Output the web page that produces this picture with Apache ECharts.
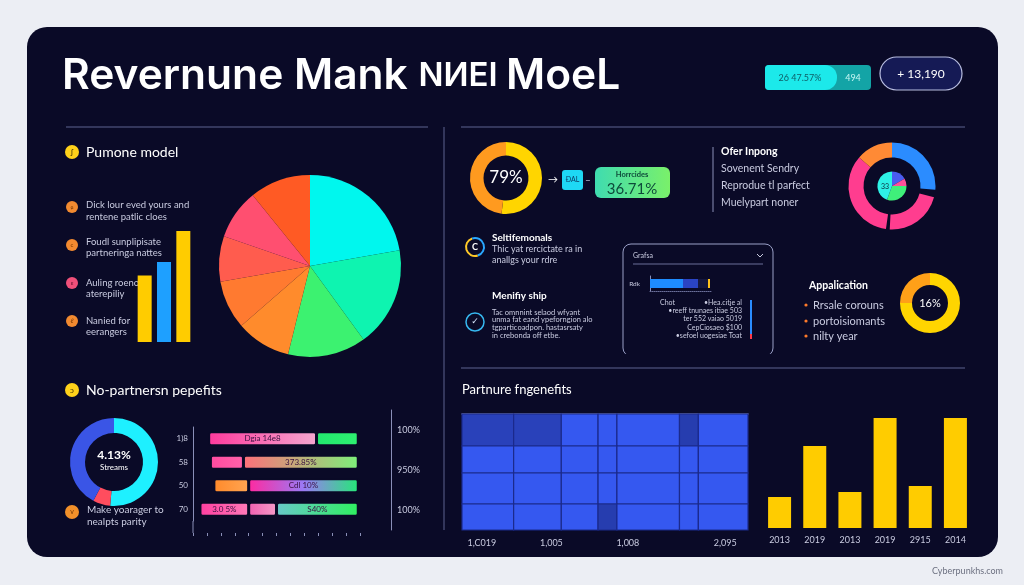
<!DOCTYPE html>
<html>
<head>
<meta charset="utf-8">
<title>Revenue model</title>
<script src="https://cdn.jsdelivr.net/npm/echarts@6/dist/echarts.min.js"></script>
<style>
html, body { margin: 0; padding: 0; background: #eceef4; }
#main { width: 1024px; height: 585px; }
</style>
</head>
<body>
<div id="main"></div>
<script>
// ---- data ----
var modelBars = [60, 72, 100]
var pieSlices = [80, 64, 50, 35, 31, 29, 32, 39]
var ringMain = [52, 48] // 79% donut
var ringSplit = [95, 10, 78, 5, 123, 49] // outer ring, with two small gaps
var innerPie = [60, 30, 110, 160]
var ringApp = [75, 25] // 16% donut
var ringStreams = [185, 23, 152] // 4.13% donut

var rowLabels = ['1)8', '58', '50', '70']
var rowOffset = [9, 10, 12, 4]
var segA = [62, 19, 20, 28]
var segB = [24, 66, 63, 16]
var segC = [0, 0, 0, 47]
var segALabels = ['Dgia 14e8', '', '', '3.0 5%']
var segBLabels = ['', '373.85%', 'Cdl 10%', '']
var segCLabels = ['', '', '', 'S40%']
var pctTicks = ['100%', '950%', '100%']

var colSpans = [52, 48, 37, 19, 63, 19, 50]
var rowSpans = [32, 27, 31, 26]
var heatVals = [
  [4, 4, 9, 9, 9, 3, 9],
  [9, 9, 9, 9, 9, 9, 9],
  [9, 9, 9, 9, 9, 9, 9],
  [9, 9, 9, 3, 9, 9, 9]
]
var heatTickAt = [20, 90, 167, 265]
var heatTicks = ['1,C019', '1,005', '1,008', '2,095']

var years = ['2013', '2019', '2013', '2019', '2915', '2014']
var yearVals = [31, 82, 36, 110, 42, 110]

var miniBar = [33, 15, 10, 2]

// ---- styles ----
var PANEL = '#0a0a27'
var BODY = 'Lato, "Noto Sans", sans-serif'
var LIGHT = '#c9cbe0'
var LINE = '#5d6290'
var CLEAR = 'rgba(0,0,0,0)'

var chart = echarts.init(document.getElementById('main'))

function grad(cols) {
  var stops = cols.map(function(c, i) {
    return { offset: cols.length === 1 ? 0 : i / (cols.length - 1), color: c }
  })
  return new echarts.graphic.LinearGradient(0, 0, 1, 0, stops)
}

// pie data with a colour per slice
function slices(vals, colors) {
  return vals.map(function(v, i) {
    return { value: v, itemStyle: { color: colors[i] } }
  })
}

function pie(center, radius, vals, colors) {
  return {
    type: 'pie', center: center, radius: radius, silent: true,
    label: { show: false }, labelLine: { show: false },
    data: slices(vals, colors)
  }
}

function txt(x, y, s, size, color, opt) {
  opt = opt || {}
  return {
    type: 'text',
    z: opt.z || 20,
    style: {
      x: x, y: y, text: s, fill: color,
      font: (opt.weight || 'normal') + ' ' + size + 'px ' + (opt.family || BODY),
      align: opt.align || 'left', verticalAlign: 'middle',
      textAlign: opt.align || 'left', textVerticalAlign: 'middle'
    }
  }
}
function line(x1, y1, x2, y2, color, w) {
  return { type: 'line', z: 5, shape: { x1: x1, y1: y1, x2: x2, y2: y2 }, style: { stroke: color || LINE, lineWidth: w || 1 } }
}
function dot(x, y, r, color, z) {
  return { type: 'circle', z: z || 10, shape: { cx: x, cy: y, r: r }, style: { fill: color } }
}

// heat cells built from spans
var heatData = []
var y0 = 0
rowSpans.forEach(function(h, r) {
  var x0 = 0
  colSpans.forEach(function(w, c) {
    heatData.push([x0, x0 + w, y0, y0 + h, heatVals[r][c]])
    x0 += w
  })
  y0 += h
})

var seg1Colors = [['#ff3a9c', '#f4a6cf'], ['#ff4aa0', '#ff62aa'], ['#ff8a2a', '#ffa552'], ['#ff3fa0', '#ff7ab8']]
var seg2Colors = [['#22e86e', '#2ef070'], ['#ff6f7a', '#7df07a'], ['#ff2aa0', '#9a7af5', '#25e878'], ['#f060b0', '#f59ac8']]
var seg3Colors = [['#68c8c8'], ['#68c8c8'], ['#68c8c8'], ['#68c8c8', '#2ff060']]

function segSeries(vals, labels, colors) {
  return {
    type: 'bar', xAxisIndex: 1, yAxisIndex: 1, stack: 'row', barWidth: 14, silent: true,
    data: vals.map(function(v, i) {
      return {
        value: v,
        itemStyle: { color: grad(colors[i]), borderColor: PANEL, borderWidth: 1.5, borderRadius: 2 },
        label: { show: !!labels[i], formatter: labels[i], position: 'inside', color: '#3a1040', fontSize: 8, fontFamily: BODY }
      }
    })
  }
}

function miniSeries(v, color) {
  return {
    type: 'bar', xAxisIndex: 5, yAxisIndex: 5, stack: 'mini', barWidth: 9, silent: true,
    itemStyle: { color: color }, data: [v]
  }
}

var hiddenCat = { type: 'category', show: false }
var hiddenVal = { type: 'value', show: false }

var option = {
  backgroundColor: '#eceef4',
  animation: false,
  grid: [
    { left: 135, top: 231, width: 58, height: 111 },
    { left: 193, top: 427, width: 167, height: 94 },
    { left: 391, top: 410, width: 1, height: 120 },
    { left: 462, top: 414, width: 286, height: 116 },
    { left: 762, top: 418, width: 211, height: 110 },
    { left: 650, top: 276, width: 62, height: 15 }
  ],
  xAxis: [
    Object.assign({ gridIndex: 0, data: ['a', 'b', 'c'] }, hiddenCat),
    {
      gridIndex: 1, type: 'value', min: 0, max: 96, interval: 8, offset: 12,
      axisLine: { lineStyle: { color: '#8a8fb8' } },
      axisTick: { show: true, length: 3, lineStyle: { color: '#8a8fb8' } },
      axisLabel: { show: false }, splitLine: { show: false }
    },
    Object.assign({ gridIndex: 2 }, hiddenVal),
    {
      gridIndex: 3, type: 'value', min: 0, max: 288, offset: 3,
      axisLine: { lineStyle: { color: '#7c82b0', width: 1.5 } },
      axisTick: { show: false }, splitLine: { show: false },
      axisLabel: {
        customValues: heatTickAt, color: LIGHT, fontSize: 9, fontFamily: BODY, margin: 6,
        formatter: function(v) { return heatTicks[heatTickAt.indexOf(v)] }
      }
    },
    {
      gridIndex: 4, type: 'category', data: years,
      axisLine: { show: false }, axisTick: { show: false },
      axisLabel: { color: LIGHT, fontSize: 9, fontFamily: BODY, margin: 8, interval: 0 }
    },
    {
      gridIndex: 5, type: 'value', min: 0, max: 62,
      axisLine: { show: true, lineStyle: { color: '#6a6f9a', type: 'dotted' } },
      axisTick: { show: false }, axisLabel: { show: false }, splitLine: { show: false }
    }
  ],
  yAxis: [
    Object.assign({ gridIndex: 0, max: 100 }, hiddenVal),
    {
      gridIndex: 1, type: 'category', data: rowLabels, inverse: true,
      axisLine: { lineStyle: { color: '#8a8fb8' } },
      axisTick: { length: 3, alignWithLabel: true, lineStyle: { color: '#8a8fb8' } },
      axisLabel: { color: LIGHT, fontSize: 8, fontFamily: BODY, margin: 5 }
    },
    {
      gridIndex: 2, type: 'category', data: pctTicks, position: 'right', inverse: true,
      axisLine: { lineStyle: { color: '#8a8fb8' } },
      axisTick: { length: 4, alignWithLabel: true, lineStyle: { color: '#8a8fb8' } },
      axisLabel: { color: LIGHT, fontSize: 9, fontFamily: BODY, margin: 5 }
    },
    Object.assign({ gridIndex: 3, min: 0, max: 116, inverse: true }, hiddenVal),
    Object.assign({ gridIndex: 4, min: 0, max: 110 }, hiddenVal),
    {
      gridIndex: 5, type: 'category', data: ['Rdk'],
      axisLine: { show: true, lineStyle: { color: '#8a8fb8' } },
      axisTick: { show: false },
      axisLabel: { color: LIGHT, fontSize: 6.5, fontFamily: BODY, margin: 10 }
    }
  ],
  visualMap: {
    show: false, seriesIndex: 13, dimension: 4, min: 0, max: 9,
    inRange: { color: ['#1f2f8f', '#3558f0'] }
  },
  series: [
    // 0 model bars
    {
      type: 'bar', xAxisIndex: 0, yAxisIndex: 0, barWidth: 14, silent: true,
      data: modelBars.map(function(v, i) {
        return { value: v, itemStyle: { color: ['#ffcc00', '#1ea0ff', '#ffcc00'][i] } }
      })
    },
    // 1 big pie
    pie([310, 266], 91, pieSlices,
      ['#00f7ee', '#0ef4b0', '#3cf270', '#ff8b2c', '#ff7a30', '#ff5c4e', '#ff4f70', '#ff5a24']),
    // 2 79% donut
    pie([506, 178], [22.5, 36], ringMain, ['#ffd500', '#ff9a1f']),
    // 3 split ring
    pie([892, 186], [28.5, 43.5], ringSplit, ['#2b8cff', CLEAR, '#ff3d8f', CLEAR, '#ff3d8f', '#ff8a35']),
    // 4 inner pie
    pie([892, 186], 14.5, innerPie, ['#4a5cf0', '#ff4f9a', '#3ff07a', '#2ef2e6']),
    // 5 16% donut
    pie([930, 303], [18, 30], ringApp, ['#ffd500', '#ffa018']),
    // 6 streams donut
    pie([114, 462], [29, 44], ringStreams, ['#1ef0ff', '#ff4d5e', '#3a55e6']),
    // 7 offsets (invisible)
    {
      type: 'bar', xAxisIndex: 1, yAxisIndex: 1, stack: 'row', barWidth: 14, silent: true,
      itemStyle: { color: CLEAR }, data: rowOffset
    },
    // 8-10 segments
    segSeries(segA, segALabels, seg1Colors),
    segSeries(segB, segBLabels, seg2Colors),
    segSeries(segC, segCLabels, seg3Colors),
    // 11 placeholder for pct axis grid
    { type: 'bar', xAxisIndex: 2, yAxisIndex: 2, data: [] },
    // 12 yellow bars
    {
      type: 'bar', xAxisIndex: 4, yAxisIndex: 4, barWidth: 23, silent: true,
      itemStyle: { color: '#ffcc00' }, data: yearVals
    },
    // 13 heat cells with uneven widths
    {
      type: 'custom', xAxisIndex: 3, yAxisIndex: 3, silent: true,
      encode: { x: [0, 1], y: [2, 3] },
      renderItem: function(params, api) {
        var p0 = api.coord([api.value(0), api.value(2)])
        var p1 = api.coord([api.value(1), api.value(3)])
        return {
          type: 'rect',
          shape: {
            x: Math.min(p0[0], p1[0]), y: Math.min(p0[1], p1[1]),
            width: Math.abs(p1[0] - p0[0]), height: Math.abs(p1[1] - p0[1])
          },
          style: { fill: api.visual('color'), stroke: '#1b2a8c', lineWidth: 1.2 }
        }
      },
      data: heatData
    },
    // 14-17 mini bar in the card
    miniSeries(miniBar[0], '#1e8cff'),
    miniSeries(miniBar[1], '#2a44c4'),
    miniSeries(miniBar[2], '#15183f'),
    miniSeries(miniBar[3], '#ffc21a')
  ],
  graphic: [
    { type: 'rect', z: 0, shape: { x: 27, y: 27, width: 971, height: 530, r: 20 }, style: { fill: PANEL } },
    line(66, 127, 428, 127), line(461, 127, 965, 127), line(461, 368, 965, 368), line(444, 127, 444, 530),
    {
      type: 'text', z: 20,
      style: {
        x: 62, y: 76, verticalAlign: 'middle', textVerticalAlign: 'middle',
        text: '{a|Revernune Mank }{b|NИEI }{a|MoeL}',
        rich: {
          a: { fontSize: 42.5, fontWeight: 600, fontFamily: 'Inter, Lato, sans-serif', fill: '#ffffff' },
          b: { fontSize: 33, fontWeight: 600, fontFamily: 'Inter, Lato, sans-serif', fill: '#ffffff' }
        }
      }
    },
    // header badges
    { type: 'rect', z: 10, shape: { x: 765, y: 65, width: 106, height: 25, r: 4 }, style: { fill: '#13a4a6' } },
    { type: 'rect', z: 11, shape: { x: 765, y: 65, width: 72, height: 25, r: [4, 12, 12, 4] }, style: { fill: '#1ce9ea' } },
    txt(800, 78, '26 47.57%', 9, '#0e5d66', { align: 'center' }),
    txt(853, 78, '494', 9, '#c6f6f4', { align: 'center' }),
    { type: 'rect', z: 10, shape: { x: 880, y: 57, width: 82, height: 33, r: 16.5 }, style: { fill: '#151a55', stroke: '#b8bde0', lineWidth: 1.2 } },
    txt(921, 74, '+ 13,190', 12, '#ffffff', { align: 'center' }),

    // top-left section
    dot(72, 152, 7, '#ffd21a'), txt(72, 152, 'ʃ', 8, '#3a2a00', { align: 'center' }),
    txt(86, 152, 'Pumone model', 14, '#ffffff'),
    dot(72, 207, 6, '#f28a30'), txt(72, 207, 'ɕ', 6, '#7a3a00', { align: 'center' }),
    dot(72, 245, 6, '#f28a30'), txt(72, 245, 'c', 6, '#7a3a00', { align: 'center' }),
    dot(72, 283, 6, '#f0507a'), txt(72, 283, 'ε', 6, '#6a1030', { align: 'center' }),
    dot(72, 321, 6, '#f28a30'), txt(72, 321, 'ℓ', 6, '#7a3a00', { align: 'center' }),
    txt(86, 205, 'Dick lour eved yours and', 9.5, LIGHT), txt(86, 217, 'rentene patlic cloes', 9.5, LIGHT),
    txt(86, 242, 'Foudl sunplipisate', 9.5, LIGHT), txt(86, 253, 'partneringa nattes', 9.5, LIGHT),
    txt(86, 283, 'Auling roeno', 9.5, LIGHT, { z: 1 }), txt(86, 294, 'aterepiliy', 9.5, LIGHT, { z: 1 }),
    txt(86, 321, 'Nanied for', 9.5, LIGHT), txt(86, 332, 'eerangers', 9.5, LIGHT),

    // top-right section
    txt(506, 178, '79%', 17, '#ffffff', { align: 'center' }),
    txt(553, 180, '→', 10, '#ffffff', { align: 'center' }),
    { type: 'rect', z: 10, shape: { x: 562, y: 170, width: 21, height: 20, r: 3 }, style: { fill: '#1ed8f5' } },
    txt(572.5, 180, 'ĐAL', 7, '#0c3d66', { align: 'center' }),
    txt(588, 180, '–', 10, LIGHT, { align: 'center' }),
    { type: 'rect', z: 10, shape: { x: 595, y: 167, width: 75, height: 31, r: 6 }, style: { fill: grad(['#3fdcb0', '#7af06a']) } },
    txt(632, 175, 'Horrcides', 7.5, '#0e4a3a', { align: 'center', weight: 'bold' }),
    txt(632, 189, '36.71%', 15, '#0e4a3a', { align: 'center' }),
    line(713, 147, 713, 212, '#8a8fb8'),
    txt(721, 152, 'Ofer Inpong', 10.5, '#ffffff', { weight: 'bold' }),
    txt(721, 169, 'Sovenent Sendry', 10.5, LIGHT),
    txt(721, 186, 'Reprodue tl parfect', 10.5, LIGHT),
    txt(721, 203, 'Muelypart noner', 10.5, LIGHT),
    txt(885, 187, '33', 7, '#0d3040', { align: 'center', z: 100 }),

    { type: 'arc', z: 10, shape: { cx: 475, cy: 247, r: 9, startAngle: Math.PI * 0.4, endAngle: Math.PI * 1.4 }, style: { stroke: '#ffc928', lineWidth: 2, fill: null } },
    { type: 'arc', z: 10, shape: { cx: 475, cy: 247, r: 9, startAngle: Math.PI * 1.4, endAngle: Math.PI * 2.4 }, style: { stroke: '#2aa8ff', lineWidth: 2, fill: null } },
    txt(475, 247, 'C', 9, '#ffffff', { align: 'center', weight: 'bold' }),
    txt(492, 238, 'Seltifemonals', 10, '#ffffff', { weight: 'bold' }),
    txt(492, 249, 'Thic yat rercictate ra in', 9, LIGHT),
    txt(492, 260, 'anallgs your rdre', 9, LIGHT),
    txt(492, 296, 'Menifiy ship', 10, '#ffffff', { weight: 'bold' }),
    { type: 'circle', z: 10, shape: { cx: 475, cy: 322, r: 9 }, style: { stroke: '#37b8f0', lineWidth: 1.5, fill: null } },
    txt(475, 322, '✓', 9, '#d8e8ff', { align: 'center', family: 'DejaVu Sans' }),
    txt(492, 313, 'Tac omnnint selaod wfyant', 7.5, LIGHT),
    txt(492, 320, 'unma fat eand ypeforngion alo', 7.5, LIGHT),
    txt(492, 328, 'tgparticoadpon. hastasrsaty', 7.5, LIGHT),
    txt(492, 336, 'in crebonda off etbe.', 7.5, LIGHT),

    // card
    { type: 'rect', z: 4, shape: { x: 623, y: 244, width: 150, height: 112, r: 8 }, style: { stroke: '#9aa0c8', lineWidth: 1, fill: null } },
    line(619, 356, 777, 356, PANEL, 4),
    txt(633, 256, 'Grafsa', 7, LIGHT),
    { type: 'polyline', z: 10, shape: { points: [[757, 254], [760, 257], [763, 254]] }, style: { stroke: LIGHT, lineWidth: 1, fill: null } },
    line(633, 264, 763, 264, '#6a6f9a'),
    txt(660, 303, 'Chot', 7, LIGHT),
    txt(742, 303, '•Hea.citje al', 7, LIGHT, { align: 'right' }),
    txt(742, 311, '•reeff tnunaes itiae 503', 7, LIGHT, { align: 'right' }),
    txt(742, 319, 'ter 552 vaiao 5019', 7, LIGHT, { align: 'right' }),
    txt(742, 328, 'CepCiosaeo $100', 7, LIGHT, { align: 'right' }),
    txt(742, 336, '•sefoel uogesiae Toat', 7, LIGHT, { align: 'right' }),
    line(751, 300, 751, 334, '#2a8cff', 2), line(751, 334, 751, 339, '#ff3a4a', 2),

    txt(809, 286, 'Appalication', 10.5, '#ffffff', { weight: 'bold' }),
    dot(806, 305, 1.6, '#ff7a2a'), dot(806, 321, 1.6, '#ff7a2a'), dot(806, 336, 1.6, '#ff7a2a'),
    txt(813, 305, 'Rrsale corouns', 11, LIGHT),
    txt(813, 321, 'portoisiomants', 11, LIGHT),
    txt(813, 336, 'nilty year', 11, LIGHT),
    txt(930, 303, '16%', 11, '#ffffff', { align: 'center' }),

    // bottom-left section
    dot(72, 390, 7, '#ffd21a'), txt(72, 390, 'ɔ', 8, '#3a2a00', { align: 'center' }),
    txt(86, 390, 'No-partnersn pepefits', 14, '#ffffff'),
    txt(114, 455, '4.13%', 12, '#ffffff', { align: 'center', weight: 'bold' }),
    txt(114, 467, 'Streams', 8, '#ffffff', { align: 'center' }),
    dot(72, 512, 7, '#f2902a'), txt(72, 512, 'v', 7, '#6a3000', { align: 'center' }),
    txt(87, 510, 'Make yoarager to', 10, LIGHT),
    txt(87, 522, 'nealpts parity', 10, LIGHT),
    line(193, 521, 193, 533, '#8a8fb8'),

    // bottom-right section
    txt(462, 390, 'Partnure fngenefits', 13, '#ffffff'),

    txt(1003, 571, 'Cyberpunkhs.com', 9, '#6c7080', { align: 'right' })
  ]
}

chart.setOption(option)
</script>
</body>
</html>
